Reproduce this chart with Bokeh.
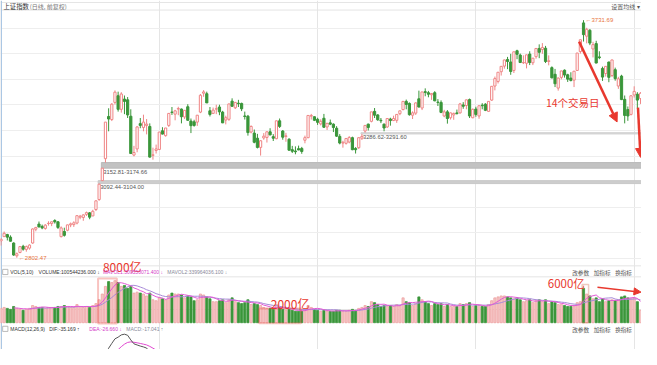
import numpy as np
import pandas as pd
from bokeh.plotting import figure
from bokeh.models import (Range1d, ColumnDataSource, Label, Arrow, NormalHead,
                          BoxAnnotation, Grid, FixedTicker)
from bokeh.core.properties import value
from bokeh.embed import file_html
from bokeh.resources import INLINE

# ---------------- data (上证指数 daily, 2020-05-18 .. 2021-03-16) ----------------
opens = [2868,2885,2893,2883,2860,2810,2823,2847,2835,2840,
 2860,2914,2934,2925,2917,2936,2936,2948,2943,2885,
 2905,2910,2931,2932,2938,2961,2960,2972,2978,2966,
 2991,3030,3104,3190,3355,3343,3410,3436,3383,3423,
 3420,3356,3204,3228,3327,3312,3320,3316,3203,3222,
 3226,3299,3280,3320,3372,3364,3384,3384,3353,3393,
 3337,3334,3333,3372,3446,3444,3377,3367,3384,3392,
 3372,3341,3344,3415,3389,3407,3406,3357,3356,3294,
 3290,3270,3234,3271,3273,3295,3276,3268,3338,3298,
 3277,3266,3225,3220,3229,3230,3262,3272,3356,3354,
 3344,3326,3348,3314,3330,3325,3309,3277,3251,3250,
 3255,3272,3230,3233,3270,3298,3325,3336,3375,3361,
 3340,3325,3314,3345,3339,3340,3366,3382,3414,3406,
 3360,3368,3424,3388,3452,3448,3440,3448,3411,3410,
 3357,3373,3350,3361,3369,3369,3400,3398,3421,3350,
 3384,3357,3399,3403,3375,3419,3474,3492,3530,3552,
 3578,3568,3535,3612,3595,3565,3563,3599,3565,3589,
 3621,3617,3622,3570,3546,3520,3466,3508,3536,3518,
 3505,3497,3535,3609,3721,3669,3692,3619,3640,3588,
 3543,3523,3568,3515,3538,3474,3513,3422,3382,3363,
 3439,3442,3425]
highs = [2878,2905,2896,2890,2863,2823,2847,2853,2850,2855,
 2917,2923,2944,2932,2934,2945,2944,2953,2945,2925,
 2920,2932,2940,2945,2968,2970,2972,2983,2981,2990,
 3027,3092.44,3152.81,3332.88,3387,3407,3456.97,3452,3450,3437,
 3431,3383,3240,3317,3349,3362,3345,3328,3233,3245,
 3294,3313,3310,3368,3392,3381,3393,3386,3380,3403,
 3347,3342,3360,3443,3458,3452,3392,3390,3401,3401,
 3377,3358,3405,3426,3412,3420,3409,3374,3361,3320,
 3304,3287,3262,3290,3297,3309,3286,3339,3347,3302,
 3291,3270,3240,3238,3241,3236,3280,3359,3365,3355,
 3350,3344,3365,3330,3343,3328,3317,3286,3260,3270,
 3278,3276,3235,3272,3286.62,3320,3327,3373,3388,3364,
 3349,3327,3347,3350,3358,3364,3378,3414,3421,3410,
 3375,3410,3456,3451,3465,3455,3445,3454,3423,3418,
 3381,3380,3370,3370,3382,3408,3411,3421,3425,3386,
 3393,3397,3407,3407,3414,3474,3511,3528,3551,3577,
 3588,3600,3608,3616,3601,3594,3597,3610,3584,3622,
 3637,3642,3631,3594,3551,3541,3508,3534,3539,3522,
 3528,3533,3604,3656,3731.69,3702,3697,3647,3651,3610,
 3550,3552,3569,3577,3546,3510,3518,3437,3394,3437,
 3473,3450,3450]
lows = [2850,2884,2870,2866,2810,2802.47,2820,2830,2826,2834,
 2857,2906,2921,2914,2912,2928,2926,2936,2915,2882,
 2885,2906,2922,2923,2933,2953,2947,2966,2953,2965,
 2985,3025,3104.00,3174.66,3297,3337,3402,3374,3370,3364,
 3349,3209,3199,3215,3309,3297,3285,3194,3186,3210,
 3224,3285,3276,3314,3361,3340,3360,3328,3345,3339,
 3290,3315,3318,3368,3432,3408,3355,3366,3364,3360,
 3329,3324,3338,3392,3384,3392,3376,3343,3280,3289,
 3250,3230,3202,3264,3253,3281,3259,3266,3310,3264,
 3256,3222,3212,3207,3223,3209,3250,3270,3343,3337,
 3322,3320,3310,3302,3321,3294,3275,3246,3233,3245,
 3250,3223,3210,3228,3263,3291.60,3300,3332,3349,3338,
 3329,3297,3310,3319,3337,3330,3360,3379,3383,3358,
 3345,3361,3390,3380,3434,3430,3420,3415,3396,3368,
 3352,3327,3343,3342,3363,3366,3385,3383,3349,3348,
 3354,3346,3383,3376,3374,3416,3457,3484,3515,3542,
 3540,3518,3525,3579,3564,3560,3543,3556,3556,3581,
 3583,3600,3564,3555,3504,3470,3456,3500,3507,3490,
 3492,3470,3533,3601,3648,3641,3634,3586,3563,3579,
 3494,3511,3489,3509,3495,3463,3419,3328,3338,3359,
 3429,3386,3404]
closes = [2875,2898,2883,2867,2813,2818,2846,2836,2846,2852,
 2915,2921,2923,2919,2930,2937,2943,2943,2921,2919,
 2890,2931,2935,2939,2967,2965,2970,2979,2961,2984,
 3025,3090,3152.81,3332.88,3345,3403,3450,3383,3443,3414,
 3361,3210,3214,3314,3320,3333,3325,3196,3205,3228,
 3294,3286,3310,3367,3371,3377,3386,3354,3379,3340,
 3319,3320,3360,3438,3451,3408,3363,3380,3385,3373,
 3330,3350,3404,3395,3410,3405,3385,3355,3292,3316,
 3254,3234,3260,3278,3295,3283,3270,3338,3316,3274,
 3279,3223,3219,3217,3224,3218,3272,3359,3359,3340,
 3332,3336,3313,3328,3325,3312,3278,3251,3254,3269,
 3273,3225,3225,3272,3277,3320,3312,3373,3360,3342,
 3338,3310,3347,3339,3347,3363,3377,3414,3402,3362,
 3369,3408,3392,3451,3449,3442,3445,3416,3410,3371,
 3373,3347,3369,3367,3366,3404,3395,3420,3357,3383,
 3363,3397,3397,3379,3414,3473,3503,3528,3551,3576,
 3570,3531,3608,3598,3566,3566,3596,3566,3583,3621,
 3606,3625,3570,3573,3506,3483,3505,3533,3517,3501,
 3496,3532,3603,3655,3675,3696,3642,3636,3564,3585,
 3509,3551,3508,3576,3503,3502,3421,3359,3357,3436,
 3453,3419,3446]
volumes = [2700,2880,2700,2520,3060,2700,2520,2340,2520,2700,
 3240,3060,2880,2880,2700,2880,2880,2880,3060,3060,
 3240,3060,2880,2880,3420,3060,2880,3060,2880,3240,
 3600,4320,5400,6840,7740,7560,7920,7560,6840,7020,
 6480,6840,5580,5760,5580,5400,5040,5580,4320,4140,
 4680,4500,4320,5220,5580,5400,5400,5220,4680,5040,
 4860,4140,4320,5400,5220,4860,4500,3960,3960,4140,
 4320,3780,4320,4680,3960,3780,3600,3780,4320,3420,
 3600,3420,3240,2880,2700,2700,2520,3420,2880,2520,
 2340,2520,2340,2160,2160,2160,2520,3240,2880,2520,
 2340,2160,2340,2160,2160,2160,2340,2340,2160,2160,
 2340,2520,2340,2700,2880,3240,3060,3960,3780,3420,
 3060,3240,3060,3240,3060,3420,3240,4680,3960,3780,
 3240,3600,4860,4320,3960,3600,3240,3600,3420,3600,
 3060,3420,3060,3060,3060,3600,3420,3600,3780,3060,
 3240,3240,3060,3060,3420,4140,4680,4860,5040,5040,
 4860,4680,4500,4680,4320,3960,4140,4320,3780,4140,
 4320,3960,4320,3600,3960,3780,3420,3420,3240,3060,
 3060,3240,3780,3960,6480,5400,5040,4500,4680,3960,
 4500,3960,4140,4320,4140,4320,4860,5040,4680,4500,
 4680,3960,2340]

gap_start = [31, 32, 114]
gap_low = [3092.44, 3152.81, 3286.62]
gap_high = [3104.00, 3174.66, 3291.60]
gap_text = ["3092.44-3104.00", "3152.81-3174.66", "3286.62-3291.60"]
price_grid = [2800, 2900, 3000, 3100, 3200, 3300, 3400, 3500, 3600, 3700]

high_idx, low_idx = 184, 5

# ---------------- styles ----------------
UP = "#ef8585"
DN = "#3a963a"
VUP_FILL = "#f6c6c6"
VUP_LINE = "#eea2a2"
RED = "#e8382e"
CJK = "Noto Sans CJK SC"
LAT = "Liberation Sans"

o = np.array(opens, float); c = np.array(closes, float)
h = np.array(highs, float); l = np.array(lows, float)
v = np.array(volumes, float)
n = len(c)
idx = np.arange(n)
up = c >= o

src = ColumnDataSource(dict(
    x=idx, h=h, l=l, top=np.maximum(o, c), bot=np.minimum(o, c), vol=v,
    line=np.where(up, UP, DN), fill=np.where(up, "#ffffff", DN),
    vfill=np.where(up, VUP_FILL, DN), vline=np.where(up, VUP_LINE, DN)))

vs = pd.Series(v)
ma5 = vs.rolling(5).mean().to_numpy()
ma10 = vs.rolling(10).mean().to_numpy()

cs = pd.Series(c)
dif = (cs.ewm(span=12, adjust=False).mean() - cs.ewm(span=26, adjust=False).mean())
dea = dif.ewm(span=9, adjust=False).mean()
dmax = float(dif.max())

p = figure(width=641, height=349, output_backend="svg", toolbar_location=None,
           x_range=Range1d(-0.154, 202.31), y_range=Range1d(2443.5, 3808.6),
           x_axis_location=None, y_axis_location=None, min_border=0,
           background_fill_color="white", border_fill_color="white",
           outline_line_color=None)
p.extra_y_ranges = {"vol": Range1d(-5040, 60660),
                    "macd": Range1d(0.6 * dmax, 9.725 * dmax),
                    "py": Range1d(365, 0)}
p.extra_x_ranges = {"px": Range1d(0, 657)}

p.add_layout(Grid(dimension=1, ticker=FixedTicker(ticks=price_grid),
                  grid_line_color="#eeeeee", grid_line_width=1))

# panel separators / left border (layout chrome, pixel-like coordinates)
p.segment(x0=[0, 0, 0, 1], x1=[657, 657, 657, 1], y0=[10, 277.5, 289, 0], y1=[10, 277.5, 289, 365],
          x_range_name="px", y_range_name="py",
          line_color=["#e4e4e4", "#e4e4e4", "#e4e4e4", "#a9c6e4"], line_width=1)

# small header icons (left side) drawn as outlined squares
ix0, ix1 = [2.2, 2.2], [7.6, 7.6]
iy0, iy1 = [281.2, 340.7], [286.6, 346.1]
sx0, sx1, sy0, sy1 = [], [], [], []
for a, b, cc, d in zip(ix0, ix1, iy0, iy1):
    sx0 += [a, b, b, a]; sx1 += [b, b, a, a]
    sy0 += [cc, cc, d, d]; sy1 += [cc, d, d, cc]
p.segment(x0=sx0, x1=sx1, y0=sy0, y1=sy1, x_range_name="px", y_range_name="py",
          line_color="#aaaaaa", line_width=0.8)

# gap bands
p.quad(left=np.array(gap_start) - 0.3, right=[n + 5] * 3, bottom=gap_low, top=gap_high,
       fill_color=["#cdcdcd", "#c2c2c2", "#d6d6d6"],
       line_color=["#c8c8c8", "#bababa", "#d2d2d2"], line_width=1)
p.text(x=gap_start, y=gap_low, text=gap_text, text_font=value(LAT),
       text_font_size="5.8px", text_color="#555555", text_baseline="top",
       x_offset=1, y_offset=1.5)

# candles
p.segment(x0="x", y0="h", x1="x", y1="l", line_color="line", line_width=1, source=src)
p.vbar(x="x", width=0.7, top="top", bottom="bot", fill_color="fill",
       line_color="line", line_width=1, source=src)

# high / low marks
p.text(x=[high_idx], y=[h[high_idx]], text=["\u2190" + f"{h[high_idx]:.2f}"],
       text_font=value(LAT), text_font_size="6px", text_color="#e8743c",
       text_baseline="middle", x_offset=2)
p.text(x=[low_idx], y=[l[low_idx]], text=["\u2190" + f"{l[low_idx]:.2f}"],
       text_font=value(LAT), text_font_size="6px", text_color="#e8743c",
       text_baseline="middle", x_offset=2)

# volume
p.vbar(x="x", width=0.68, top="vol", bottom=0, fill_color="vfill", line_color="vline",
       line_width=0.8, y_range_name="vol", source=src)
p.line(idx, ma10, y_range_name="vol", line_color="#a88ad8", line_width=1)
p.line(idx, ma5, y_range_name="vol", line_color="#e25ad6", line_width=1)

# macd (top of pane only)
p.line(idx, dea.to_numpy(), y_range_name="macd", line_color="#e048d0", line_width=1)
p.line(idx, dif.to_numpy(), y_range_name="macd", line_color="#555555", line_width=1)

# annotation boxes
p.add_layout(BoxAnnotation(left=30.66, right=36.6, bottom=-150, top=8330, y_range_name="vol",
                           fill_alpha=0, line_color=RED, line_width=2))
p.add_layout(BoxAnnotation(left=81.5, right=94.76, bottom=-90, top=2700, y_range_name="vol",
                           fill_alpha=0, line_color=RED, line_width=2))
p.add_layout(BoxAnnotation(left=183.55, right=185.6, bottom=0, top=7200, y_range_name="vol",
                           fill_alpha=0, line_color="#c8502a", line_width=1.5))

# arrows
p.add_layout(Arrow(end=NormalHead(size=9, fill_color=RED, line_color=RED),
                   x_start=182.6, y_start=3647.8, x_end=194.6, y_end=3333.6,
                   line_color=RED, line_width=2.5))
p.add_layout(Arrow(end=NormalHead(size=9, fill_color=RED, line_color=RED),
                   x_start=201.2, y_start=3389.7, x_end=202.0, y_end=3195,
                   line_color=RED, line_width=2.5))
p.add_layout(Arrow(end=NormalHead(size=7, fill_color=RED, line_color=RED),
                   x_start=188.4, y_start=6660, x_end=202.15, y_end=5760,
                   y_range_name="vol", line_color=RED, line_width=1.5))


def lab(x, y, text, size, color, font=CJK, style="normal"):
    p.add_layout(Label(x=x, y=y, x_range_name="px", y_range_name="py", text=text,
                       text_font=font, text_font_size=size, text_color=color,
                       text_baseline="top", text_font_style=style))


# red notes
lab(105, 269, "8000亿", "12px", RED)
lab(277, 308, "2000亿", "12px", RED)
lab(561, 287, "6000亿", "11.5px", RED)
lab(559, 99, "14个交易日", "10.5px", RED)

# titles
lab(3, 1.5, "上证指数", "6.4px", "#333333")
lab(30, 1.5, "(日线, 前复权)", "6px", "#777777")
lab(626, 1.5, "设置均线 ▾", "6px", "#555555")

for yy in [281, 340.5]:
    lab(586, yy, "改参数", "5.6px", "#555555")
    lab(608, yy, "加指标", "5.6px", "#555555")
    lab(630, yy, "换指标", "5.6px", "#555555")

lab(10, 281.3, "VOL(5,10)", "5px", "#333333", LAT)
lab(39, 281.3, "VOLUME:100544236.000 ↓", "5px", "#333333", LAT)
lab(105, 281.3, "MAVOL1:309550071.400 ↓", "5px", "#d43cc8", LAT)
lab(171, 281.3, "MAVOL2:339964036.100 ↓", "5px", "#8a8a9a", LAT)

lab(10, 340.8, "MACD(12,26,9)", "5px", "#333333", LAT)
lab(50, 340.8, "DIF:-35.169 ↑", "5px", "#333333", LAT)
lab(91, 340.8, "DEA:-26.660 ↓", "5px", "#d43cc8", LAT)
lab(129, 340.8, "MACD:-17.041 ↑", "5px", "#8a8a9a", LAT)

open("out.html", "w").write(file_html(p, INLINE))
